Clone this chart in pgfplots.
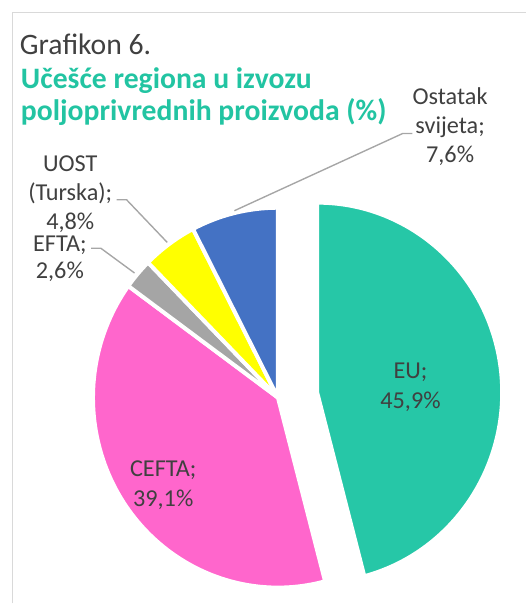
\documentclass[border=0pt]{standalone}
\usepackage{pgfplots}
\pgfplotsset{compat=1.18}
\usepackage{fontspec}
\setmainfont{Carlito}
\definecolor{cEU}{HTML}{26C7A7}
\definecolor{cCEFTA}{HTML}{FF66CC}
\definecolor{cEFTA}{HTML}{A5A5A5}
\definecolor{cUOST}{HTML}{FFFF00}
\definecolor{cOST}{HTML}{4472C4}
\definecolor{ttl}{HTML}{22C4A2}
\definecolor{txt}{HTML}{404040}
\definecolor{lead}{HTML}{A6A6A6}
\definecolor{frame}{HTML}{D9D9D9}
% shares (%)
\def\vEU{45.9}
\def\vCEFTA{39.1}
\def\vEFTA{2.6}
\def\vUOST{4.8}
\def\vOST{7.6}
\begin{document}
\begin{tikzpicture}
\pgfmathsetmacro\aA{90}
\pgfmathsetmacro\aB{\aA-3.6*\vEU}
\pgfmathsetmacro\aC{\aB-3.6*\vCEFTA}
\pgfmathsetmacro\aD{\aC-3.6*\vEFTA}
\pgfmathsetmacro\aE{\aD-3.6*\vUOST}
\pgfmathsetmacro\aF{\aE-3.6*\vOST}
\pgfmathsetmacro\mEU{(\aA+\aB)/2}
\begin{axis}[
  scale only axis, width=532pt, height=610pt,
  xmin=0, xmax=532, ymin=0, ymax=610,
  hide axis, clip=false,
]
\path (axis cs:0,0) rectangle (axis cs:532,610);
% frame
\draw[frame, line width=1.5pt] (axis cs:12.5,0) -- (axis cs:12.5,597.5) -- (axis cs:532,597.5);
% slices
\fill[cEU, draw=white, line width=4pt, line join=round] (axis cs:281,208) ++(\mEU:40pt) -- ++(\aA:187pt and 192pt) arc[start angle=\aA, end angle=\aB, x radius=187pt, y radius=192pt] -- cycle;
\fill[cCEFTA, draw=white, line width=4pt, line join=round] (axis cs:281,208) -- ++(\aB:187pt and 192pt) arc[start angle=\aB, end angle=\aC, x radius=187pt, y radius=192pt] -- cycle;
\fill[cEFTA, draw=white, line width=4pt, line join=round] (axis cs:281,208) -- ++(\aC:187pt and 192pt) arc[start angle=\aC, end angle=\aD, x radius=187pt, y radius=192pt] -- cycle;
\fill[cUOST, draw=white, line width=4pt, line join=round] (axis cs:281,208) -- ++(\aD:187pt and 192pt) arc[start angle=\aD, end angle=\aE, x radius=187pt, y radius=192pt] -- cycle;
\fill[cOST, draw=white, line width=4pt, line join=round] (axis cs:281,208) -- ++(\aE:187pt and 192pt) arc[start angle=\aE, end angle=\aF, x radius=187pt, y radius=192pt] -- cycle;
% leader lines
\draw[lead, line width=1.4pt] (axis cs:417,475) -- (axis cs:407,475) -- (axis cs:237,397);
\draw[lead, line width=1.4pt] (axis cs:118,408) -- (axis cs:128,408) -- (axis cs:169,365);
\draw[lead, line width=1.4pt] (axis cs:92,359) -- (axis cs:102,359) -- (axis cs:136,334);
% titles
\node[anchor=base west, inner sep=0pt, txt, font=\fontsize{30}{36}\selectfont] at (axis cs:20,555) {Grafikon 6.};
\node[anchor=base west, inner sep=0pt, ttl, font=\fontsize{30}{36}\selectfont\bfseries] at (axis cs:21,521) {Učešće regiona u izvozu};
\node[anchor=base west, inner sep=0pt, ttl, font=\fontsize{30}{36}\selectfont\bfseries] at (axis cs:21,488) {poljoprivrednih proizvoda (\%)};
% data labels
\begin{scope}[every node/.style={anchor=base, inner sep=0pt, txt, font=\fontsize{24.5}{29}\selectfont}]
\node at (axis cs:455,504) {Ostatak};
\node at (axis cs:455,475) {svijeta;};
\node at (axis cs:455,446) {7,6\%};
\node at (axis cs:71,437) {UOST};
\node at (axis cs:71,407) {(Turska);};
\node at (axis cs:71,378) {4,8\%};
\node at (axis cs:60.5,356) {EFTA;};
\node at (axis cs:60.5,328) {2,6\%};
\node at (axis cs:415,227) {EU;};
\node at (axis cs:415,197) {45,9\%};
\node at (axis cs:165,128) {CEFTA;};
\node at (axis cs:165,98) {39,1\%};
\end{scope}
\end{axis}
\end{tikzpicture}
\end{document}
